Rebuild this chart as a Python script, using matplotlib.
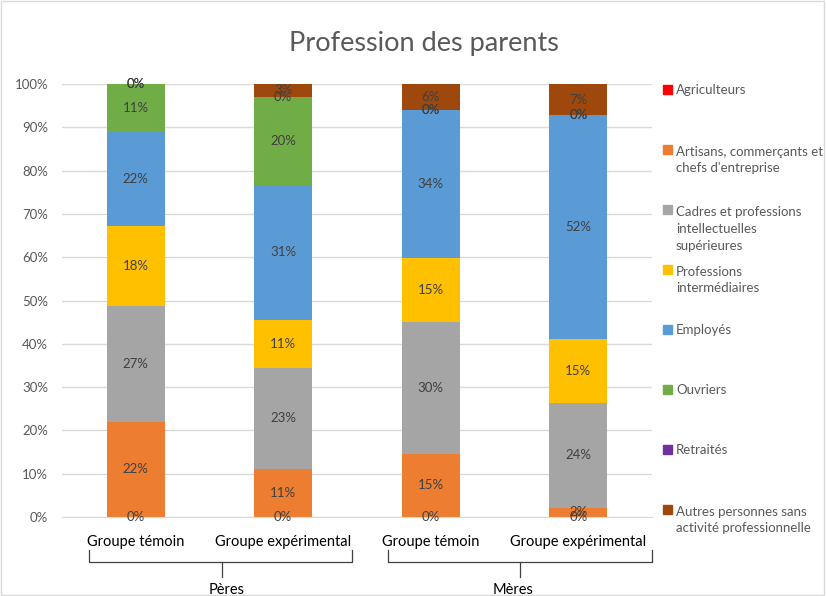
import matplotlib
matplotlib.use("Agg")
import matplotlib.pyplot as plt
import numpy as np

plt.rcParams['font.family'] = ['Lato', 'DejaVu Sans']

categories = ["Groupe témoin", "Groupe expérimental", "Groupe témoin", "Groupe expérimental"]
groups = ["Pères", "Mères"]
series = ["Agriculteurs", "Artisans, commerçants et\nchefs d'entreprise",
          "Cadres et professions\nintellectuelles\nsupérieures",
          "Professions\nintermédiaires", "Employés", "Ouvriers", "Retraités",
          "Autres personnes sans\nactivité professionnelle"]
agriculteurs = [0.0, 0.0, 0.0, 0.0]
artisans = [22.0, 11.1, 14.6, 2.1]
cadres = [26.8, 23.3, 30.4, 24.3]
prof_inter = [18.3, 11.1, 14.7, 14.6]
employes = [21.9, 31.2, 34.3, 51.8]
ouvriers = [11.0, 20.4, 0.0, 0.0]
retraites = [0.0, 0.0, 0.0, 0.0]
autres = [0.0, 2.9, 6.0, 7.2]
values = [agriculteurs, artisans, cadres, prof_inter, employes, ouvriers, retraites, autres]
colors = ["#FF0000", "#ED7D31", "#A5A5A5", "#FFC000", "#5B9BD5", "#70AD47", "#7030A0", "#9E480E"]
yticks = [0, 10, 20, 30, 40, 50, 60, 70, 80, 90, 100]

fig = plt.figure(figsize=(8.26, 5.96), dpi=100)
ax = fig.add_axes([62/826, 1-517/596, 590/826, 433/596])

x = np.arange(len(categories))
bottom = np.zeros(len(categories))
for vals, col, name in zip(values, colors, series):
    v = np.array(vals)
    ax.bar(x, v, 0.39, bottom=bottom, color=col, label=name, zorder=2)
    for xi, b, vi in zip(x, bottom, v):
        ax.text(xi, b + vi/2, f"{vi:.0f}%", ha='center', va='center',
                fontsize=9.5, color='#404040', zorder=3)
    bottom += v

ax.set_xlim(-0.5, 3.5)
ax.set_ylim(0, 100)
ax.set_yticks(yticks)
ax.set_yticklabels([f"{t}%" for t in yticks], fontsize=9.5, color='#595959')
ax.yaxis.grid(True, color='#D9D9D9', linewidth=1, zorder=0)
ax.set_xticks(x)
ax.set_xticklabels(categories, fontsize=10.5, color='#000000')
ax.tick_params(axis='x', length=0, pad=13)
ax.tick_params(axis='y', length=0, pad=10)
for s in ['top', 'right', 'left']:
    ax.spines[s].set_visible(False)
ax.spines['bottom'].set_color('#D9D9D9')

# group brackets
tr = ax.get_xaxis_transform()
def ypx(p):
    return (517 - p) / 433.0
def xd(p):
    return (p - 62) / 147.5 - 0.5
for (l, r, c), g, lc in [((89, 352, 222), groups[0], 227), ((388, 652, 520), groups[1], 513)]:
    ax.plot([xd(l), xd(l), xd(r), xd(r)], [ypx(550), ypx(562), ypx(562), ypx(550)],
            transform=tr, color='#404040', lw=0.9, clip_on=False)
    ax.plot([xd(c), xd(c)], [ypx(562), ypx(577)], transform=tr, color='#404040', lw=0.9, clip_on=False)
    ax.text(xd(lc), ypx(590), g, transform=tr, ha='center', va='center', fontsize=10.5, color='#000000')

fig.text(424/826, 1-43/596, "Profession des parents", ha='center', va='center',
         fontsize=19.5, color='#595959')

# legend
leg_y = [90, 160, 229, 280, 330, 390, 450, 520]
for name, col, yy in zip(series, colors, leg_y):
    nlines = name.count("\n") + 1
    top = yy - (nlines - 1) * 19.5 / 2
    fig.patches.append(plt.Rectangle((663/826, 1-(top+4)/596), 9/826, 9/596,
                                     transform=fig.transFigure, color=col, figure=fig))
    fig.text(676/826, 1-yy/596, name, ha='left', va='center', fontsize=9.5,
             color='#595959', linespacing=1.45)

fig.patches.append(plt.Rectangle((0.001, 0.001), 0.997, 0.997, transform=fig.transFigure,
                                 fill=False, edgecolor='#D9D9D9', lw=1, figure=fig))

fig.savefig("out.png", dpi=100)
